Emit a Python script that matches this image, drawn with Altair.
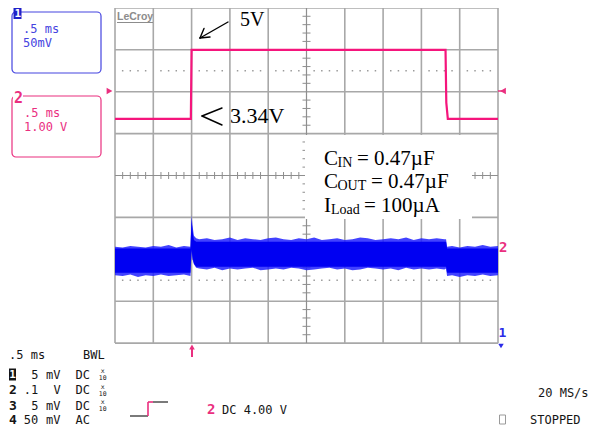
import altair as alt
import pandas as pd

# ---------------- data ----------------
# Channel 2 : input step (V)
ch2_time_ms = [-1.0, -0.01, 0.0, 3.315, 3.325, 3.345, 4.0]
ch2_volts = [3.35, 3.35, 5.0, 5.0, 3.74, 3.35, 3.35]

# Channel 1 : output detail (mV), outer noise envelope
ch1_time_ms = [-1.0, -0.9, -0.8, -0.7, -0.6, -0.5, -0.4, -0.3, -0.2, -0.1, -0.015,
               0.0, 0.012, 0.03, 0.06,
               0.1, 0.2, 0.3, 0.4, 0.5, 0.6, 0.7, 0.8, 0.9, 1.0, 1.1, 1.2, 1.3, 1.4, 1.5, 1.6,
               1.7, 1.8, 1.9, 2.0, 2.1, 2.2, 2.3, 2.4, 2.5, 2.6, 2.7, 2.8, 2.9, 3.0, 3.1, 3.2, 3.3,
               3.322, 3.335, 3.4, 3.5, 3.6, 3.7, 3.8, 3.9, 4.0]
ch1_max_mv = [17, 16, 18, 17, 16, 18, 17, 19, 16, 18, 17,
              55, 42, 30, 27,
              26, 27, 25, 26, 28, 25, 27, 26, 25, 27, 28, 26, 25, 27, 26, 28,
              25, 26, 27, 25, 26, 28, 27, 25, 26, 27, 26, 28, 25, 27, 26, 27, 26,
              26, 17, 18, 16, 18, 17, 19, 17, 18]
ch1_min_mv = [-17, -18, -16, -19, -17, -18, -16, -18, -17, -16, -18,
              12, 2, -4, -8,
              -9, -10, -8, -11, -9, -10, -9, -8, -11, -10, -9, -10, -8, -9, -11, -10,
              -9, -8, -10, -9, -11, -10, -8, -9, -10, -9, -11, -8, -10, -9, -10, -9, -10,
              -9, -18, -17, -19, -17, -18, -16, -18, -17]
# Channel 1 dense core of the trace
core_time_ms = [-1.0, -0.015, 0.0, 0.012, 0.03, 0.06, 3.322, 3.335, 4.0]
core_max_mv = [15, 15, 50, 36, 25, 23, 23, 15, 15]
core_min_mv = [-14, -14, 14, 4, -3, -7, -7, -14, -14]

# scope settings
ms_per_div = 0.5
ch2_v_per_div = 1.0
ch2_center_v = 2.0
ch1_mv_per_div = 50

# ---------------- screen geometry ----------------
X0, PX_MS = 115.0, 76.6      # grid left edge, pixels per ms
Y0, PX_DIV = 175.5, 41.9     # grid centre line, pixels per division
W, H = 582, 418


def tx(X):
    return -1.0 + (X - X0) / PX_MS


def dy(Y):
    return (Y0 - Y) / PX_DIV


CH1_OFF = dy(261)

xs = alt.Scale(domain=[tx(8), tx(8 + W)], nice=False, zero=False)
ys = alt.Scale(domain=[dy(8 + H), dy(8)], nice=False, zero=False)


def XE(f):
    return alt.X(f, type="quantitative", scale=xs, axis=None)


def YE(f):
    return alt.Y(f, type="quantitative", scale=ys, axis=None)


def segs(rows):
    return pd.DataFrame([dict(t=tx(a), d=dy(b), t2=tx(c), d2=dy(e)) for a, b, c, e in rows])


def rule_layer(df, color, width, cap="butt"):
    return alt.Chart(df).mark_rule(color=color, strokeWidth=width, strokeCap=cap).encode(
        x=XE("t"), x2=alt.X2("t2"), y=YE("d"), y2=alt.Y2("d2"))


def text_layer(items, **kw):
    df = pd.DataFrame([dict(t=tx(a), d=dy(b), text=s) for s, a, b in items])
    props = dict(align="left", baseline="middle")
    props.update(kw)
    return alt.Chart(df).mark_text(**props).encode(x=XE("t"), y=YE("d"), text="text:N")


def rect_layer(rows, **kw):
    df = segs(rows)
    return alt.Chart(df).mark_rect(**kw).encode(
        x=XE("t"), x2=alt.X2("t2"), y=YE("d"), y2=alt.Y2("d2"))


def point_layer(items, **kw):
    df = pd.DataFrame([dict(t=tx(a), d=dy(b)) for a, b in items])
    return alt.Chart(df).mark_point(**kw).encode(x=XE("t"), y=YE("d"))


layers = []

# ---------------- graticule ----------------
t_left, t_right = -1.0, -1.0 + 10 * ms_per_div
grid_rows = []
for k in range(11):
    if k == 5:
        continue
    tt = -1.0 + k * ms_per_div
    grid_rows.append(dict(t=tt, t2=tt, d=-4, d2=4))
for k in range(-4, 5):
    if k == 0:
        continue
    grid_rows.append(dict(t=t_left, t2=t_right, d=k, d2=k))
layers.append(rule_layer(pd.DataFrame(grid_rows), "#a8a8a8", 1.6))

centre_df = pd.DataFrame([dict(t=1.5, t2=1.5, d=-4, d2=4), dict(t=t_left, t2=t_right, d=0, d2=0)])
layers.append(rule_layer(centre_df, "#8e8e8e", 1.2))

tick_rows = []
for j in range(-20, 21):
    if j % 5 == 0:
        continue
    tick_rows.append(dict(t=1.5 - 4 / PX_MS, t2=1.5 + 4 / PX_MS, d=j * 0.2, d2=j * 0.2))
for k in range(1, 50):
    if k % 5 == 0:
        continue
    tt = -1.0 + k * 0.1
    tick_rows.append(dict(t=tt, t2=tt, d=-3.5 / PX_DIV, d2=3.5 / PX_DIV))
layers.append(rule_layer(pd.DataFrame(tick_rows), "#8e8e8e", 1.0))

dot_rows = []
for k in range(1, 50):
    if k % 5 == 0:
        continue
    for dd in (2.5, -2.5):
        dot_rows.append(dict(t=-1.0 + k * 0.1, d=dd))
layers.append(alt.Chart(pd.DataFrame(dot_rows)).mark_square(size=2.2, color="#9a9a9a", opacity=1).encode(
    x=XE("t"), y=YE("d")))

# white label box over the graticule
layers.append(rect_layer([(305, 135, 472, 219)], color="white"))

# ---------------- traces ----------------
ch1_df = pd.DataFrame({
    "t": ch1_time_ms,
    "d": [CH1_OFF + v / ch1_mv_per_div for v in ch1_max_mv],
    "d2": [CH1_OFF + v / ch1_mv_per_div for v in ch1_min_mv],
})
layers.append(alt.Chart(ch1_df).mark_area(color="#2020ff", opacity=0.85, interpolate="linear").encode(
    x=XE("t"), y=YE("d"), y2=alt.Y2("d2")))

core_df = pd.DataFrame({
    "t": core_time_ms,
    "d": [CH1_OFF + v / ch1_mv_per_div for v in core_max_mv],
    "d2": [CH1_OFF + v / ch1_mv_per_div for v in core_min_mv],
})
layers.append(alt.Chart(core_df).mark_area(color="#0000f2", opacity=1).encode(
    x=XE("t"), y=YE("d"), y2=alt.Y2("d2")))

ch2_df = pd.DataFrame({
    "t": ch2_time_ms,
    "d": [(v - ch2_center_v) / ch2_v_per_div for v in ch2_volts],
    "i": list(range(len(ch2_time_ms))),
})
layers.append(alt.Chart(ch2_df).mark_line(color="#f5157c", strokeWidth=2.2).encode(
    x=XE("t"), y=YE("d"), order="i:Q"))

# ---------------- annotations ----------------
layers.append(rule_layer(segs([(228, 22, 200, 38), (200, 38, 204, 28.5), (200, 38, 210, 37)]),
                         "black", 1.4, cap="round"))
layers.append(rule_layer(segs([(202, 116, 222, 108), (202, 116, 222, 125)]), "black", 1.4, cap="round"))
layers.append(text_layer([("5V", 240, 26)], font="Liberation Serif", fontSize=20,
                         baseline="alphabetic", color="black"))
layers.append(text_layer([("3.34V", 230, 123)], font="Liberation Serif", fontSize=22,
                         baseline="alphabetic", color="black"))

layers.append(text_layer([("C", 324, 165), ("C", 324, 188), ("I", 324, 212),
                          ("= 0.47\u00b5F", 357, 165), ("= 0.47\u00b5F", 371, 188),
                          ("= 100\u00b5A", 364, 212)],
                         font="Liberation Serif", fontSize=21, baseline="alphabetic", color="black"))
layers.append(text_layer([("IN", 337.5, 167), ("OUT", 337.5, 190), ("Load", 331, 214)],
                         font="Liberation Serif", fontSize=14, baseline="alphabetic", color="black"))

# ---------------- scope UI ----------------
BLUE = "#4444e0"
PINK = "#ea2f7f"
MONO = "DejaVu Sans Mono"

layers.append(rect_layer([(12, 12, 101, 73)], fill="white", fillOpacity=0, stroke=BLUE,
                         strokeWidth=1.2, cornerRadius=4))
layers.append(rect_layer([(12, 96, 101, 157)], fill="white", fillOpacity=0, stroke=PINK,
                         strokeWidth=1.2, cornerRadius=4))
layers.append(rect_layer([(13.5, 8, 21.5, 19)], color="#2020c8"))
layers.append(text_layer([("1", 14.6, 13.5)], font=MONO, fontSize=11, fontWeight="bold", color="white"))
layers.append(rect_layer([(13, 91, 23, 103)], color="white"))
layers.append(text_layer([("2", 14, 97.5)], font=MONO, fontSize=15, fontWeight="bold", color=PINK))
layers.append(text_layer([(".5 ms", 23, 28.5), ("50mV", 23, 43)], font=MONO, fontSize=12, color=BLUE))
layers.append(text_layer([(".5 ms", 24, 112.5), ("1.00 V", 24, 127)], font=MONO, fontSize=12, color=PINK))

# LeCroy logo
layers.append(text_layer([("LeCroy", 117, 16.5)], font="Liberation Sans", fontSize=10.5,
                         fontWeight="bold", color="#8c8c8c"))
layers.append(rule_layer(segs([(117, 22.5, 153, 22.5)]), "#8c8c8c", 1.0))

# channel markers
layers.append(point_layer([(109.5, 91)], shape="triangle-right", filled=True, size=45, color=PINK, opacity=1))
layers.append(point_layer([(503, 91)], shape="triangle-left", filled=True, size=45, color=PINK, opacity=1))
layers.append(rule_layer(segs([(498, 91, 503, 91)]), PINK, 1.5))
layers.append(text_layer([("2", 499, 248)], font=MONO, fontSize=14, fontWeight="bold", color=PINK))
layers.append(text_layer([("1", 498.5, 333)], font=MONO, fontSize=13, fontWeight="bold", color="#2a2ae8"))
layers.append(point_layer([(501, 346)], shape="triangle-down", filled=True, size=30, color="#2a2ae8", opacity=1))
# trigger position arrow
layers.append(rule_layer(segs([(192, 348, 192, 357)]), PINK, 2))
layers.append(point_layer([(192, 347)], shape="triangle-up", filled=True, size=32, color=PINK, opacity=1))

# bottom left readout
COL0, CW = 9.0, 7.4
r0, r1, r2, r3, r4 = 355, 374.5, 390, 405.5, 419.5


def cx(col):
    return COL0 + CW * col


normal = [(".5 ms", cx(0), r0), ("BWL", cx(10), r0),
          ("5", cx(3), r1), ("mV", cx(5), r1), ("DC", cx(9), r1),
          (".1", cx(2), r2), ("V", cx(6), r2), ("DC", cx(9), r2),
          ("5", cx(3), r3), ("mV", cx(5), r3), ("DC", cx(9), r3),
          ("50", cx(2), r4), ("mV", cx(5), r4), ("AC", cx(9), r4),
          ("DC 4.00 V", 222, 410), ("20 MS/s", 538, 393), ("STOPPED", 530, 420)]
layers.append(text_layer(normal, font=MONO, fontSize=12, color="#151515"))
layers.append(text_layer([("2", cx(0), r2), ("3", cx(0), r3), ("4", cx(0), r4)],
                         font=MONO, fontSize=13, fontWeight="bold", color="#151515"))
layers.append(rect_layer([(cx(0), r1 - 6, cx(0) + 7, r1 + 6)], color="#151515"))
layers.append(text_layer([("1", cx(0) + 0.3, r1)], font=MONO, fontSize=11, fontWeight="bold", color="white"))
tiny = []
for rr in (r1, r2, r3):
    tiny.append(("x", cx(12.2) + 3.5, rr - 3.5))
    tiny.append(("10", cx(12.2) + 3.5, rr + 3.5))
layers.append(text_layer(tiny, font=MONO, fontSize=6.5, align="center", color="#151515"))

layers.append(text_layer([("2", 207, 410)], font=MONO, fontSize=14, fontWeight="bold", color=PINK))
# step symbol
layers.append(rule_layer(segs([(130, 416, 148, 416), (153, 402, 168, 402)]), "#222222", 1.2))
layers.append(rule_layer(segs([(148, 416, 148, 402), (148, 402, 153, 402)]), PINK, 1.6))
# stopped indicator
layers.append(rect_layer([(499.5, 415, 505.5, 424)], fill="white", stroke="#9a9a9a", strokeWidth=1))

chart = alt.layer(*layers).properties(
    width=W, height=H, padding=0,
    autosize=alt.AutoSizeParams(type="none"),
    background="white",
).configure_view(stroke=None)

chart.save("out.html", embed_options={"renderer": "svg", "actions": False})
